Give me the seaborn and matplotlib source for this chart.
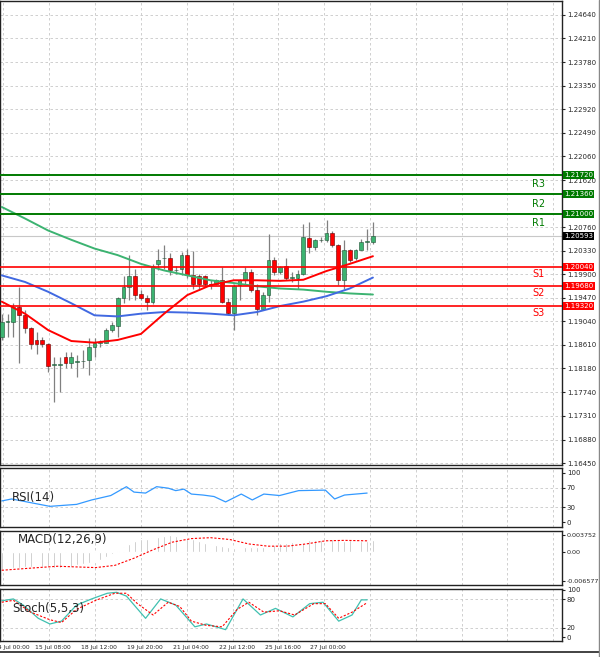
import numpy as np
import pandas as pd
import matplotlib
matplotlib.use("Agg")
import matplotlib.pyplot as plt
import seaborn as sns

sns.set_style("white")

# 4h candles (open, high, low, close)
opens = [1.1876, 1.1903, 1.1903, 1.1930, 1.1915, 1.1891, 1.1870, 1.1870, 1.1862, 1.1824,
         1.1824, 1.1838, 1.1828, 1.1830, 1.1831, 1.1833, 1.1857, 1.1865, 1.1865, 1.1888,
         1.1895, 1.1947, 1.1966, 1.1986, 1.1954, 1.1947, 1.1940, 1.2009, 1.2019, 1.2020,
         1.1997, 1.2000, 1.2025, 1.1988, 1.1986, 1.1986, 1.1973, 1.1973, 1.1979, 1.1940,
         1.1920, 1.1970, 1.1979, 1.1994, 1.1962, 1.1926, 1.1952, 1.2017, 1.1994, 1.2005,
         1.1984, 1.1984, 1.1991, 1.2056, 1.2039, 1.2052, 1.2052, 1.2066, 1.2043, 1.1979,
         1.2034, 1.2019, 1.2034, 1.2049, 1.2049]
closes = [1.1903, 1.1903, 1.1930, 1.1915, 1.1891, 1.1862, 1.1862, 1.1862, 1.1823, 1.1824,
          1.1824, 1.1828, 1.1839, 1.1830, 1.1831, 1.1857, 1.1864, 1.1865, 1.1888, 1.1897,
          1.1947, 1.1967, 1.1986, 1.1952, 1.1947, 1.1940, 1.2006, 1.2017, 1.2019, 1.1997,
          1.1997, 1.2025, 1.1988, 1.1972, 1.1972, 1.1973, 1.1970, 1.1979, 1.1940, 1.1920,
          1.1968, 1.1979, 1.1994, 1.1962, 1.1926, 1.1952, 1.2017, 1.1994, 1.2003, 1.1984,
          1.1984, 1.1991, 1.2058, 1.2039, 1.2052, 1.2052, 1.2066, 1.2043, 1.1979, 1.2034,
          1.2017, 1.2034, 1.2049, 1.2049, 1.2060]
highs = [1.1918, 1.1918, 1.1937, 1.1966, 1.1924, 1.1894, 1.1885, 1.1876, 1.1864, 1.1839,
         1.1839, 1.1848, 1.1848, 1.1842, 1.1851, 1.1873, 1.1873, 1.1870, 1.1891, 1.1903,
         1.1949, 1.1986, 1.2025, 1.1999, 1.1961, 1.1952, 1.2009, 1.2037, 1.2043, 1.2028,
         1.2006, 1.2031, 1.2037, 1.2033, 1.1991, 1.1988, 1.1979, 1.1982, 1.2003, 1.1946,
         1.1973, 1.1982, 1.2003, 1.2000, 1.1973, 1.1958, 1.2064, 1.2022, 1.2006, 1.2020,
         1.1994, 1.1997, 1.2082, 1.2085, 1.2055, 1.2058, 1.2089, 1.2070, 1.2046, 1.2052,
         1.2037, 1.2037, 1.2055, 1.2073, 1.2085]
lows = [1.1870, 1.1876, 1.1876, 1.1827, 1.1882, 1.1854, 1.1845, 1.1857, 1.1812, 1.1757,
        1.1774, 1.1818, 1.1818, 1.1803, 1.1818, 1.1806, 1.1839, 1.1857, 1.1864, 1.1885,
        1.1876, 1.1937, 1.1943, 1.1943, 1.1943, 1.1924, 1.1935, 1.1997, 1.2000, 1.1988,
        1.1991, 1.1988, 1.1984, 1.1964, 1.1961, 1.1966, 1.1964, 1.1970, 1.1937, 1.1915,
        1.1888, 1.1943, 1.1973, 1.1958, 1.1915, 1.1924, 1.1940, 1.1988, 1.1991, 1.1979,
        1.1976, 1.1964, 1.1988, 1.2028, 1.2035, 1.2049, 1.2049, 1.2040, 1.1970, 1.1964,
        1.2013, 1.2016, 1.2034, 1.2034, 1.2046]

ma_idx = [0, 4, 8, 12, 16, 20, 24, 28, 32, 36, 40, 44, 48, 52, 56, 60, 64]
ma_red = [1.1940, 1.1918, 1.1888, 1.1868, 1.1865, 1.1870, 1.1881, 1.1918, 1.1952, 1.1970,
          1.1979, 1.1979, 1.1978, 1.1980, 1.1996, 1.2009, 1.2023]
ma_blue = [1.1988, 1.1976, 1.1958, 1.1937, 1.1915, 1.1913, 1.1918, 1.1921, 1.1920, 1.1918,
           1.1915, 1.1921, 1.1932, 1.1940, 1.1950, 1.1964, 1.1984]
ma_green = [1.2113, 1.2092, 1.2070, 1.2053, 1.2037, 1.2025, 1.2009, 1.1997, 1.1988, 1.1979,
            1.1974, 1.1968, 1.1964, 1.1962, 1.1958, 1.1955, 1.1953]

resist = [1.21720, 1.21360, 1.21000]
resist_names = ["R3", "R2", "R1"]
support = [1.20040, 1.19680, 1.19320]
support_names = ["S1", "S2", "S3"]
last_price = 1.20593
price_ticks = [1.24640, 1.24210, 1.23780, 1.23350, 1.22920, 1.22490, 1.22060, 1.21620,
               1.20760, 1.20330, 1.19900, 1.19470, 1.19040, 1.18610, 1.18180,
               1.17740, 1.17310, 1.16880, 1.16450]

rsi_idx = [0, 1.7, 8.3, 12.9, 15.5, 18.8, 21.5, 22.8, 24.8, 26.7, 28.7, 30, 31.4, 32.7,
           34.7, 36.6, 38.6, 41.3, 43.2, 45.2, 47.9, 51.2, 55.8, 57.4, 59.1, 63.0]
rsi_val = [43, 47, 32, 36, 45, 54, 72, 61, 59, 72, 69, 64, 67, 57, 55, 52, 41, 57, 45,
           57, 54, 64, 65, 47, 55, 59]

macd_hist = [-0.0040, -0.0038, -0.0036, -0.0035, -0.0034, -0.0033, -0.0032, -0.0033, -0.0034,
             -0.0035, -0.0035, -0.0034, -0.0033, -0.0030, -0.0027, -0.0025, -0.0022, -0.0018,
             -0.0012, -0.0005, 0.0003, 0.0011, 0.0018, 0.0024, 0.0028, 0.0030, 0.0032, 0.0034,
             0.0036, 0.0037, 0.0036, 0.0034, 0.0031, 0.0028, 0.0025, 0.0021, 0.0018, 0.0015,
             0.0013, 0.0011, 0.0010, 0.0011, 0.0012, 0.0011, 0.0011, 0.0012, 0.0013, 0.0016,
             0.0020, 0.0021, 0.0022, 0.0021, 0.0021, 0.0026, 0.0027, 0.0027, 0.0027, 0.0028,
             0.0026, 0.0025, 0.0026, 0.0025, 0.0025, 0.0025, 0.0026]
sig_idx = [0, 6.3, 9.6, 16.2, 19.5, 22.8, 26.1, 29.4, 32.7, 36.0, 39.3, 42.6, 45.9, 49.2,
           52.5, 55.8, 59.1, 63.0]
sig_val = [-0.0041, -0.0035, -0.0032, -0.0035, -0.0030, -0.0014, 0.0005, 0.0022, 0.0030,
           0.0032, 0.0028, 0.0018, 0.0013, 0.0013, 0.0018, 0.0025, 0.0026, 0.0025]

st_idx = [0, 2.0, 3.7, 6.3, 8.3, 10.3, 12.9, 15.5, 18.2, 19.8, 21.5, 24.8, 27.4, 30.0,
          33.3, 35.3, 38.6, 41.6, 44.6, 47.2, 50.2, 53.1, 55.4, 58.1, 60.4, 62.0, 63.0]
st_main = [77, 81, 68, 40, 28, 34, 68, 81, 93, 95, 87, 40, 81, 68, 22, 28, 16, 81, 47,
           61, 43, 71, 74, 34, 47, 79, 79]
st_sig_idx = [0, 2.0, 5.0, 8.3, 10.3, 12.9, 16.2, 19.5, 21.5, 23.4, 26.1, 28.7, 30.7, 32.7,
              35.3, 38.0, 40.6, 42.6, 45.2, 47.9, 50.5, 53.8, 55.8, 58.1, 60.4, 63.0]
st_sig = [74, 78, 53, 37, 31, 59, 78, 93, 93, 71, 47, 74, 65, 34, 25, 22, 59, 74, 53, 56,
          47, 71, 71, 40, 53, 73]

time_pos = [-6.2, 1.7, 8.8, 16.7, 24.6, 32.6, 40.5, 48.4, 56.3]
time_labels = ["13 Jul 16:00", "14 Jul 00:00", "15 Jul 08:00", "18 Jul 12:00",
               "19 Jul 20:00", "21 Jul 04:00", "22 Jul 12:00", "25 Jul 16:00",
               "27 Jul 00:00"]

XMAX = 96.6
fig = plt.figure(figsize=(6, 6.57), dpi=100)
W = 562 / 600
def panel(top, bot):
    return fig.add_axes([0, 1 - bot / 657, W, (bot - top) / 657])

ax = panel(1, 465)
ax_rsi = panel(468, 527)
ax_macd = panel(531, 585)
ax_st = panel(589, 641)

grid_x = np.arange(-7.6, XMAX, 7.9)
for a in (ax, ax_rsi, ax_macd, ax_st):
    a.set_xlim(-0.3, XMAX)
    a.yaxis.tick_right()
    a.tick_params(axis="y", labelsize=5, length=2, pad=1.5)
    a.tick_params(axis="x", length=0, labelbottom=False)
    for x in grid_x:
        a.axvline(x, color="#c8c8c8", ls=(0, (3, 3)), lw=0.6, zorder=0)
    for s in a.spines.values():
        s.set_color("#222222")
        s.set_linewidth(1.0)

# main chart
ax.set_ylim(1.16414, 1.24895)
ax.set_yticks(price_ticks)
ax.set_yticklabels([f"{p:.5f}" for p in price_ticks])
for p in price_ticks:
    ax.axhline(p, color="#c8c8c8", ls=(0, (3, 3)), lw=0.6, zorder=0)

df = pd.DataFrame({"o": opens, "h": highs, "l": lows, "c": closes})
df["i"] = np.arange(len(df))
ax.vlines(df["i"], df["l"], df["h"], color="#808080", lw=0.9, zorder=2)
up = df["c"] >= df["o"]
body = (df["c"] - df["o"]).abs().clip(lower=0.00012)
ax.bar(df["i"][up], body[up], bottom=df["o"][up], width=0.65, color="#3cb371",
       edgecolor="#1f4f33", lw=0.4, zorder=3)
ax.bar(df["i"][~up], body[~up], bottom=df["c"][~up], width=0.65, color="#ff0000",
       edgecolor="#600000", lw=0.4, zorder=3)

ma = pd.DataFrame({"i": ma_idx, "red": ma_red, "blue": ma_blue, "green": ma_green})
sns.lineplot(data=ma, x="i", y="green", ax=ax, color="#3cb371", lw=1.4, zorder=4)
sns.lineplot(data=ma, x="i", y="blue", ax=ax, color="#4169e1", lw=1.4, zorder=4)
sns.lineplot(data=ma, x="i", y="red", ax=ax, color="#ff0000", lw=1.4, zorder=4)
ax.set_xlabel("")
ax.set_ylabel("")

box = dict(boxstyle="square,pad=0.15", lw=0)
for p, n in zip(resist, resist_names):
    ax.axhline(p, color="#007a00", lw=1.4, zorder=5)
    ax.text(XMAX * 0.958, p - 0.0017, n, color="#007a00", fontsize=7, ha="center", va="center")
    ax.text(1.004, p, f"{p:.5f}", transform=ax.get_yaxis_transform(), fontsize=5,
            color="white", va="center", bbox=dict(box, fc="#007a00"), clip_on=False, zorder=6)
for p, n in zip(support, support_names):
    ax.axhline(p, color="#ff0000", lw=1.2, zorder=5)
    ax.text(XMAX * 0.958, p - 0.0013, n, color="#ff0000", fontsize=7, ha="center", va="center")
    ax.text(1.004, p, f"{p:.5f}", transform=ax.get_yaxis_transform(), fontsize=5,
            color="white", va="center", bbox=dict(box, fc="#ff0000"), clip_on=False, zorder=6)
ax.axhline(last_price, color="#c8c8c8", lw=0.8, zorder=1)
ax.text(1.004, last_price, f"{last_price:.5f}", transform=ax.get_yaxis_transform(),
        fontsize=5, color="white", va="center", bbox=dict(box, fc="black"), clip_on=False)

# RSI
ax_rsi.set_ylim(-10, 110)
ax_rsi.set_yticks([0, 30, 70, 100])
for v in (30, 70):
    ax_rsi.axhline(v, color="#c8c8c8", ls=(0, (3, 3)), lw=0.6)
sns.lineplot(x=rsi_idx, y=rsi_val, ax=ax_rsi, color="#3399ff", lw=0.9)
ax_rsi.text(1.8, 50, "RSI(14)", fontsize=8.5, va="center")

# MACD
ax_macd.set_ylim(-0.0074, 0.0047)
ax_macd.set_yticks([-0.006577, 0.0, 0.003752])
ax_macd.set_yticklabels(["-0.006577", "0.00", "0.003752"], fontsize=4.6)
ax_macd.bar(np.arange(len(macd_hist)), macd_hist, width=0.3, color="#b4b4b4")
sns.lineplot(x=sig_idx, y=sig_val, ax=ax_macd, color="#ff0000", lw=0.8, ls=(0, (2, 1.5)))
ax_macd.text(2.8, 0.0028, "MACD(12,26,9)", fontsize=8.5, va="center")

# Stochastic
ax_st.set_ylim(-8, 102)
ax_st.set_yticks([0, 20, 80, 100])
for v in (20, 80):
    ax_st.axhline(v, color="#c8c8c8", ls=(0, (3, 3)), lw=0.6)
sns.lineplot(x=st_idx, y=st_main, ax=ax_st, color="#40c0b0", lw=0.9)
sns.lineplot(x=st_sig_idx, y=st_sig, ax=ax_st, color="#ff0000", lw=0.8, ls=(0, (2, 1.5)))
ax_st.text(1.8, 60, "Stoch(5,5,3)", fontsize=8.5, va="center")

for pos, lab in zip(time_pos, time_labels):
    ax_st.text(pos, -0.08, lab, transform=ax_st.get_xaxis_transform(), fontsize=4.3,
               ha="center", va="top", clip_on=False)

fig.add_artist(plt.Line2D([0, 1], [1 - 652 / 657] * 2, color="#222222", lw=1.2))
fig.add_artist(plt.Line2D([0.999, 0.999], [0, 1], color="#888888", lw=1))
fig.savefig("out.png", dpi=100)
